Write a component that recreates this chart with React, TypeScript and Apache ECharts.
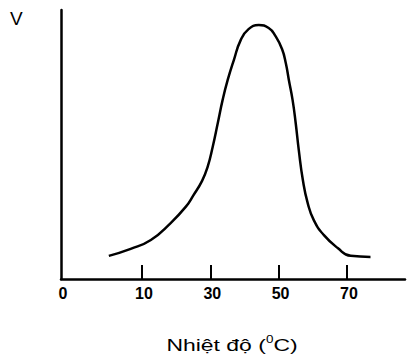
import React, { useEffect, useRef } from "react";
import * as echarts from "echarts";

// Temperature axis (scale used for plotting; origin label shown as "0")
const xMin = -13.7;
const xMax = 87;
const xTickValues = [10, 30, 50, 70];
const xTickLabels = ["10", "30", "50", "70"];
const originLabel = "0";

// Reaction rate curve: [temperature, V]
const curveX = [0.3, 6.7, 12.6, 18.4, 22.8, 25.0, 27.6, 29.2, 30.7, 32.2, 33.6, 35.1, 36.9, 38.9, 41.2, 44.2, 47.1, 49.0, 51.0, 52.1, 53.0, 54.1, 55.0, 55.9, 57.1, 58.5, 60.3, 63.2, 67.3, 71.1, 76.9];
const curveY = [8.6, 11.2, 14.5, 20.8, 26.8, 31.0, 36.5, 41.6, 49.1, 58.0, 66.5, 74.0, 81.4, 88.8, 92.9, 94.4, 93.3, 90.5, 85.5, 80.3, 74.0, 66.5, 58.0, 48.0, 36.8, 28.3, 21.9, 16.4, 11.5, 8.6, 8.2];

const yLabel = "V";
const xTitle = "Nhiệt độ (";

export default function App() {
  const ref = useRef<HTMLDivElement>(null);
  useEffect(() => {
    if (!ref.current) return;
    const chart = echarts.init(ref.current, null, { renderer: "svg" });
    const data = curveX.map((x, i) => [x, curveY[i]]);
    chart.setOption({
      animation: false,
      backgroundColor: "#ffffff",
      grid: { left: 61, right: 6, top: 10, bottom: 81, containLabel: false },
      xAxis: {
        type: "value",
        min: xMin,
        max: xMax,
        splitLine: { show: false },
        axisLine: { show: true, onZero: false, lineStyle: { color: "#000", width: 2.5 } },
        axisTick: {
          show: true,
          inside: true,
          length: 14,
          customValues: xTickValues,
          lineStyle: { color: "#000", width: 2 },
        },
        axisLabel: {
          show: true,
          customValues: [xMin, ...xTickValues],
          formatter: (v: number) => {
            const idx = xTickValues.indexOf(v);
            return idx >= 0 ? xTickLabels[idx] : originLabel;
          },
          color: "#000",
          fontFamily: "Liberation Sans",
          fontWeight: "bold",
          fontSize: 16,
          margin: 6,
          padding: [0, 0, 0, 4],
        },
      },
      yAxis: {
        type: "value",
        min: 0,
        max: 100,
        splitLine: { show: false },
        axisLine: { show: true, onZero: false, lineStyle: { color: "#000", width: 2.5 } },
        axisTick: { show: false },
        axisLabel: { show: false },
      },
      graphic: [
        {
          type: "text",
          left: 10,
          top: 9,
          style: {
            text: yLabel,
            fontFamily: "Liberation Sans",
            fontSize: 19,
            fill: "#000",
          },
        },
        {
          type: "text",
          x: 232,
          y: 345,
          scaleX: 1.35,
          style: {
            text: "{m|" + xTitle + "}{s|0}{m|C)}",
            align: "center",
            verticalAlign: "middle",
            fill: "#000",
            rich: {
              m: { fontFamily: "Liberation Sans", fontSize: 17, lineHeight: 20, fill: "#000" },
              s: { fontFamily: "Liberation Sans", fontSize: 10, lineHeight: 20, verticalAlign: "top", fill: "#000" },
            },
          },
        },
      ],
      series: [
        {
          type: "line",
          data,
          smooth: 0.5,
          showSymbol: false,
          lineStyle: { color: "#000", width: 2.5 },
        },
      ],
    });
    return () => chart.dispose();
  }, []);
  return <div ref={ref} style={{ position: "absolute", left: 0, top: 0, width: 411, height: 360 }} />;
}
